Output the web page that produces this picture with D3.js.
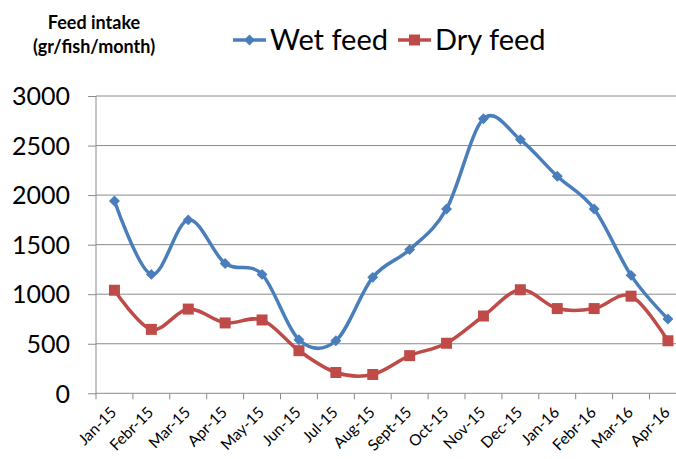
<!DOCTYPE html>
<html>
<head>
<meta charset="utf-8">
<script src="https://cdn.jsdelivr.net/npm/d3@7"></script>
<style>
  body { margin: 0; background: #fff; }
  text { font-family: Lato, "Open Sans", sans-serif; fill: #000; }
</style>
</head>
<body>
<div id="chart"></div>
<script>
// data
var months = ["Jan-15", "Febr-15", "Mar-15", "Apr-15", "May-15", "Jun-15", "Jul-15", "Aug-15",
              "Sept-15", "Oct-15", "Nov-15", "Dec-15", "Jan-16", "Febr-16", "Mar-16", "Apr-16"];
var wetFeed = [1940, 1200, 1750, 1310, 1200, 540, 530, 1170, 1450, 1860, 2770, 2560, 2190, 1860, 1190, 750];
var dryFeed = [1040, 645, 850, 710, 740, 430, 210, 190, 380, 505, 780, 1045, 855, 855, 980, 530];
var yTicks = [0, 500, 1000, 1500, 2000, 2500, 3000];

function createLineChart() {
  var W = 676, H = 459;
  var left = 96, bottom = 393.3, top = 96, band = 36.9;

  var svg = d3.select("#chart").append("svg")
      .attr("width", W)
      .attr("height", H);

  // scales
  var x = d3.scaleBand().domain(months).range([left, left + band * months.length]);
  var y = d3.scaleLinear().domain([0, 3000]).range([bottom, top]);

  // gridlines + y axis
  var yAxis = svg.append("g")
      .attr("transform", "translate(" + left + ",0)")
      .call(d3.axisLeft(y).tickValues(yTicks).tickFormat(d3.format("d")).tickSize(8).tickPadding(18));
  yAxis.select(".domain").remove();
  yAxis.selectAll("line").attr("stroke", "#8a8a8a");
  yAxis.selectAll("text")
      .style("font-size", "25px")
      .attr("dy", "0.35em");

  svg.append("g").selectAll("line")
      .data(yTicks)
    .enter().append("line")
      .attr("x1", left).attr("x2", W)
      .attr("y1", function(d) { return y(d); })
      .attr("y2", function(d) { return y(d); })
      .attr("stroke", "#8a8a8a")
      .attr("stroke-width", 1);

  // y axis line
  svg.append("line")
      .attr("x1", left).attr("x2", left)
      .attr("y1", y(3000)).attr("y2", bottom)
      .attr("stroke", "#8a8a8a");

  // x ticks between categories
  var edges = months.map(function(d) { return x(d); }).concat([x.range()[1]]);
  svg.append("g").selectAll("line")
      .data(edges)
    .enter().append("line")
      .attr("x1", function(d) { return d; })
      .attr("x2", function(d) { return d; })
      .attr("y1", bottom).attr("y2", bottom + 6)
      .attr("stroke", "#8a8a8a");

  // x labels
  svg.append("g").selectAll("text")
      .data(months)
    .enter().append("text")
      .attr("transform", function(d) {
        return "translate(" + (x(d) + x.bandwidth() / 2 + 3) + "," + (bottom + 20) + ")rotate(-45)";
      })
      .style("text-anchor", "end")
      .style("font-size", "15.5px")
      .text(function(d) { return d; });

  // lines
  var line = d3.line()
      .x(function(d, i) { return x(months[i]) + x.bandwidth() / 2; })
      .y(function(d) { return y(d); })
      .curve(d3.curveCardinal.tension(0));

  var series = [
    {name: "Wet feed", values: wetFeed, color: "#4a7ebb", shape: "diamond"},
    {name: "Dry feed", values: dryFeed, color: "#be4b48", shape: "square"}
  ];

  series.forEach(function(s) {
    svg.append("path")
        .datum(s.values)
        .attr("fill", "none")
        .attr("stroke", s.color)
        .attr("stroke-width", 3.5)
        .attr("d", line);

    svg.append("g").selectAll("path")
        .data(s.values)
      .enter().append("path")
        .attr("transform", function(d, i) {
          var t = "translate(" + (x(months[i]) + x.bandwidth() / 2) + "," + y(d) + ")";
          return s.shape == "diamond" ? t + "rotate(45)" : t;
        })
        .attr("d", d3.symbol().type(d3.symbolSquare).size(s.shape == "diamond" ? 60 : 121))
        .attr("fill", s.color);
  });

  // axis title
  var title = svg.append("text")
      .style("text-anchor", "middle")
      .style("font-size", "18px")
      .style("font-weight", "bold");
  title.append("tspan").attr("x", 94).attr("y", 29).text("Feed intake");
  title.append("tspan").attr("x", 94).attr("y", 53).text("(gr/fish/month)");

  // legend
  var legendX = [233, 398];
  series.forEach(function(s, i) {
    var g = svg.append("g").attr("transform", "translate(" + legendX[i] + ",40)");
    g.append("line")
        .attr("x1", 0).attr("x2", 33)
        .attr("stroke", s.color)
        .attr("stroke-width", 3.5);
    g.append("path")
        .attr("transform", "translate(16.5,0)" + (s.shape == "diamond" ? "rotate(45)" : ""))
        .attr("d", d3.symbol().type(d3.symbolSquare).size(s.shape == "diamond" ? 60 : 121))
        .attr("fill", s.color);
    g.append("text")
        .attr("x", 37)
        .attr("dy", "0.35em")
        .style("font-size", "29px")
        .text(s.name);
  });
}

createLineChart();
</script>
</body>
</html>
